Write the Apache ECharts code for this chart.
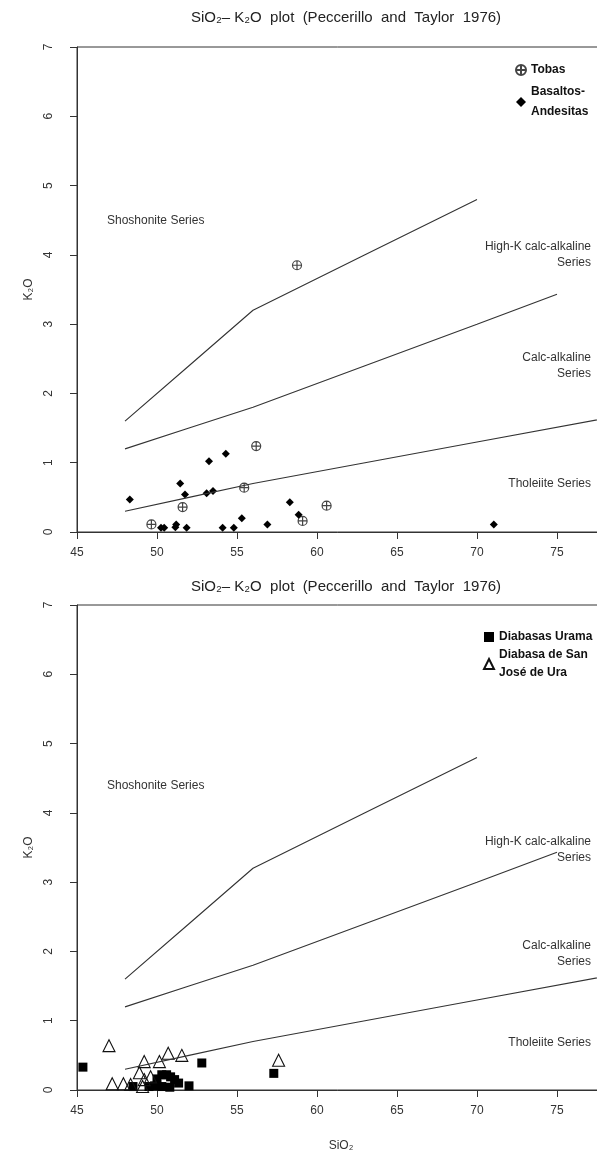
<!DOCTYPE html>
<html>
<head>
<meta charset="utf-8">
<script src="https://cdn.jsdelivr.net/npm/echarts@6/dist/echarts.min.js"></script>
<style>
html, body { margin: 0; padding: 0; background: #fff; }
#main { width: 597px; height: 1156px; }
</style>
</head>
<body>
<div id="main"></div>
<script>
// boundary lines (Peccerillo & Taylor 1976)
var shoshoniteLine = [[48, 1.6], [52, 2.4], [56, 3.2], [63, 4.0], [70, 4.8]];
var highKLine = [[48, 1.2], [52, 1.5], [56, 1.8], [63, 2.4], [70, 3.0], [75, 3.43]];
var tholeiiteLine = [[48, 0.3], [52, 0.5], [56, 0.7], [63, 1.0], [70, 1.3], [78, 1.64]];

// top plot
var tobas = [[49.65, 0.11], [51.6, 0.36], [55.45, 0.64], [56.2, 1.24], [58.75, 3.85], [59.1, 0.16], [60.6, 0.38]];
var basaltosAndesitas = [
  [48.3, 0.47], [50.25, 0.06], [50.45, 0.06], [51.15, 0.07], [51.2, 0.11], [51.45, 0.70],
  [51.75, 0.54], [51.85, 0.06], [53.1, 0.56], [53.25, 1.02], [53.5, 0.59], [54.1, 0.06],
  [54.3, 1.13], [54.8, 0.06], [55.3, 0.2], [56.9, 0.11], [58.3, 0.43], [58.85, 0.25], [71.05, 0.11]
];

// bottom plot
var diabasasUrama = [
  [45.37, 0.33], [48.5, 0.05], [49.5, 0.05], [49.85, 0.06], [50.0, 0.16], [50.3, 0.22],
  [50.6, 0.22], [50.85, 0.19], [51.1, 0.15], [51.35, 0.1], [50.3, 0.05], [50.8, 0.04],
  [52.0, 0.06], [52.8, 0.39], [57.3, 0.24]
];
var diabasaSanJose = [
  [47.0, 0.64], [47.2, 0.09], [47.9, 0.09], [48.35, 0.08], [48.9, 0.25], [49.1, 0.05],
  [49.2, 0.15], [49.6, 0.19], [49.2, 0.41], [50.15, 0.41], [50.7, 0.53], [51.55, 0.5], [57.6, 0.43]
];

var titleText = 'SiO₂– K₂O  plot  (Peccerillo  and  Taylor  1976)';
var fontFam = '"Liberation Sans", Arial, sans-serif';
var ink = '#333';

var myChart = echarts.init(document.getElementById('main'));

function xAxis(gi, name) {
  return {
    type: 'value', gridIndex: gi, min: 45, max: 78, interval: 5,
    name: name, nameLocation: 'middle', nameGap: 50,
    nameTextStyle: { color: ink, fontSize: 12, fontFamily: fontFam },
    axisLine: { show: true, onZero: false, lineStyle: { color: ink, width: 1 } },
    axisTick: { show: true, length: 7, lineStyle: { color: ink } },
    axisLabel: {
      color: ink, fontSize: 12, fontFamily: fontFam, margin: 15,
      formatter: function (v) { return v % 5 === 0 ? v : ''; }
    },
    splitLine: { show: false }
  };
}
function yAxis(gi) {
  return {
    type: 'value', gridIndex: gi, min: 0, max: 7, interval: 1,
    name: 'K₂O', nameLocation: 'middle', nameGap: 34,
    nameTextStyle: { color: ink, fontSize: 12, fontFamily: fontFam },
    axisLine: { show: true, lineStyle: { color: ink, width: 1 } },
    axisTick: { show: true, length: 7, lineStyle: { color: ink } },
    axisLabel: { color: ink, fontSize: 12, fontFamily: fontFam, rotate: 90, margin: 22 },
    splitLine: { show: false }
  };
}
function boundary(gi, data) {
  return {
    type: 'line', xAxisIndex: gi, yAxisIndex: gi, data: data,
    symbol: 'none', silent: true,
    lineStyle: { color: ink, width: 1.1 }
  };
}
function label(x, y, text, align) {
  return {
    type: 'text', x: x, y: y,
    style: {
      text: text, align: align, verticalAlign: 'middle',
      font: '12px ' + fontFam, fill: ink, lineHeight: 16
    }
  };
}

var crossCircle = 'path://M10,0 A10,10 0 1,1 10,20 A10,10 0 1,1 10,0 Z M0,10 L20,10 M10,0 L10,20';

var option = {
  animation: false,
  backgroundColor: '#fff',
  title: [
    { text: titleText, left: 341, top: 5, textAlign: 'center',
      textStyle: { fontSize: 15, fontWeight: 'normal', color: '#222', fontFamily: fontFam } },
    { text: titleText, left: 341, top: 574, textAlign: 'center',
      textStyle: { fontSize: 15, fontWeight: 'normal', color: '#222', fontFamily: fontFam } }
  ],
  grid: [
    { left: 77, top: 47, width: 528, height: 485, show: true, borderColor: ink, borderWidth: 1,
      outerBoundsMode: 'none', containLabel: false },
    { left: 77, top: 605, width: 528, height: 485, show: true, borderColor: ink, borderWidth: 1,
      outerBoundsMode: 'none', containLabel: false }
  ],
  xAxis: [xAxis(0, ''), xAxis(1, 'SiO₂')],
  yAxis: [yAxis(0), yAxis(1)],
  legend: [
    { data: ['Tobas', 'Basaltos-\nAndesitas'], orient: 'vertical', left: 510, top: 55,
      itemWidth: 10, itemHeight: 10, itemGap: 2, selectedMode: false,
      textStyle: { fontWeight: 'bold', fontSize: 12, color: '#111', fontFamily: fontFam, lineHeight: 20 } },
    { data: ['Diabasas Urama', 'Diabasa de San\nJosé de Ura'], orient: 'vertical', left: 478, top: 623,
      itemWidth: 10, itemHeight: 10, itemGap: 0, selectedMode: false,
      textStyle: { fontWeight: 'bold', fontSize: 12, color: '#111', fontFamily: fontFam, lineHeight: 18 } }
  ],
  graphic: [
    label(107, 221, 'Shoshonite Series', 'left'),
    label(591, 255, 'High-K calc-alkaline\nSeries', 'right'),
    label(591, 366, 'Calc-alkaline\nSeries', 'right'),
    label(591, 484, 'Tholeiite Series', 'right'),
    label(107, 786, 'Shoshonite Series', 'left'),
    label(591, 850, 'High-K calc-alkaline\nSeries', 'right'),
    label(591, 954, 'Calc-alkaline\nSeries', 'right'),
    label(591, 1043, 'Tholeiite Series', 'right')
  ],
  series: [
    boundary(0, shoshoniteLine), boundary(0, highKLine), boundary(0, tholeiiteLine),
    boundary(1, shoshoniteLine), boundary(1, highKLine), boundary(1, tholeiiteLine),
    {
      name: 'Tobas', type: 'scatter', xAxisIndex: 0, yAxisIndex: 0, data: tobas,
      symbol: crossCircle, symbolSize: 9,
      itemStyle: { color: 'rgba(0,0,0,0)', borderColor: '#444', borderWidth: 1.2, opacity: 1 }
    },
    {
      name: 'Basaltos-\nAndesitas', type: 'scatter', xAxisIndex: 0, yAxisIndex: 0, data: basaltosAndesitas,
      symbol: 'diamond', symbolSize: 8,
      itemStyle: { color: '#000', opacity: 1 }
    },
    {
      name: 'Diabasas Urama', type: 'scatter', xAxisIndex: 1, yAxisIndex: 1, data: diabasasUrama,
      symbol: 'rect', symbolSize: 9,
      itemStyle: { color: '#000', opacity: 1 }
    },
    {
      name: 'Diabasa de San\nJosé de Ura', type: 'scatter', xAxisIndex: 1, yAxisIndex: 1, data: diabasaSanJose,
      symbol: 'triangle', symbolSize: 12,
      itemStyle: { color: 'rgba(0,0,0,0)', borderColor: '#111', borderWidth: 1.1, opacity: 1 }
    }
  ]
};

myChart.setOption(option);
</script>
</body>
</html>
